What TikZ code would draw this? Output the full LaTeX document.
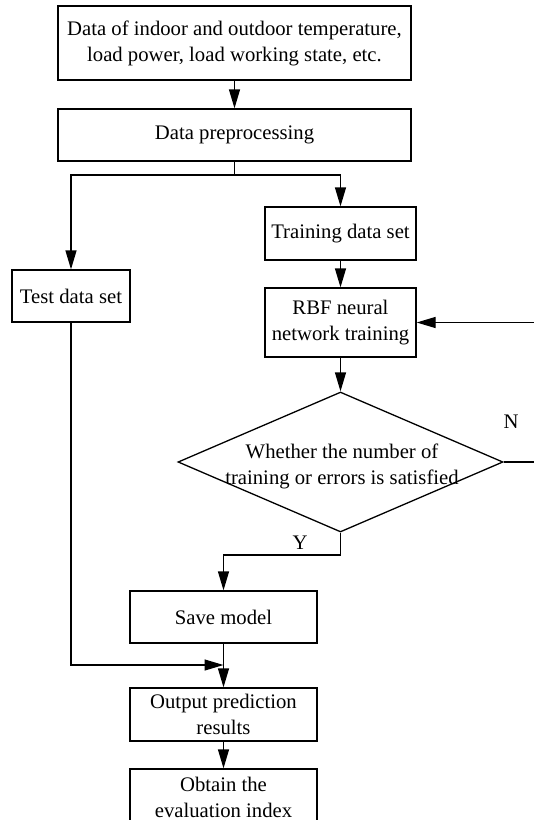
\documentclass[tikz,border=0pt]{standalone}
\usepackage{fontspec}
\setmainfont{Liberation Serif}
\usetikzlibrary{arrows.meta,shapes.geometric}
\begin{document}
\begin{tikzpicture}[x=1pt,y=-1pt,
  font=\fontsize{20.7}{26}\selectfont,
  line width=1.3pt,
  box/.style={draw,rectangle,inner sep=0pt,align=center},
  arr/.style={-{Triangle[length=19pt,width=11pt]}},
  lbl/.style={inner sep=0pt}]
\useasboundingbox (0,0) rectangle (534,820);
\clip (0,0) rectangle (534,820);
\node[box,minimum width=353pt,minimum height=74pt] (b1) at (234.5,43)
  {Data of indoor and outdoor temperature,\\load power, load working state, etc.};
\node[box,minimum width=353pt,minimum height=52pt] (b2) at (234.5,135) {Data preprocessing};
\node[box,minimum width=151pt,minimum height=53pt] (train) at (340.5,233.5) {Training data set};
\node[box,minimum width=151pt,minimum height=69pt] (rbf) at (340.5,322.5) {RBF neural\\network training};
\node[box,minimum width=118pt,minimum height=52pt] (test) at (71,296) {Test data set};
\node[draw,diamond,inner sep=0pt,minimum width=325pt,minimum height=140pt] (d) at (340.5,462) {};
\node[lbl,align=center] (dt) at (342,466) {Whether the number of\\training or errors is satisfied};
\node[box,minimum width=187pt,minimum height=52pt] (save) at (223.5,617) {Save model};
\node[box,minimum width=187pt,minimum height=53pt] (out) at (223.5,714.5) {Output prediction\\results};
\node[box,minimum width=187pt,minimum height=56pt] (obt) at (223.5,797) {Obtain the\\evaluation index};
\node[lbl] (ylab) at (300,543) {Y};
\node[lbl] (nlab) at (511,422) {N};
\coordinate (split) at (234.5,175);
\coordinate (ybend) at (340.5,555);
\coordinate (join) at (223.5,665);
\draw[arr] (b1) -- (b2);
\draw[arr] (b2.south) -- (split) -| (train.north);
\draw[arr] (split) -| (test.north);
\draw[arr] (train) -- (rbf);
\draw[arr] (rbf) -- (d.north);
\draw[arr] (d.south) -- (ybend) -| (save.north);
\draw[arr] (d.east) -- ++(45,0) |- (rbf.east);
\draw[arr] (test.south) |- (join);
\draw[arr] (save) -- (out);
\draw[arr] (out) -- (obt);
\end{tikzpicture}
\end{document}
